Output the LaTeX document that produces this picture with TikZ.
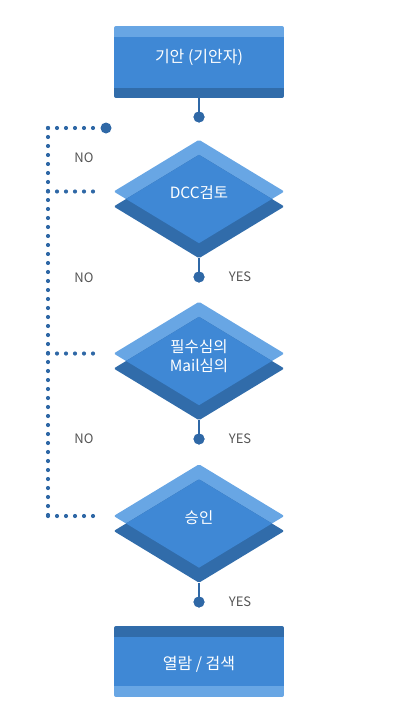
\documentclass[tikz,border=0pt]{standalone}
\usepackage{fontspec}
\setmainfont{Noto Sans CJK KR}
\definecolor{lightb}{HTML}{68A6E4}
\definecolor{midb}{HTML}{3F88D5}
\definecolor{darkb}{HTML}{316CAA}
\definecolor{dotc}{HTML}{2F68A6}
\definecolor{lbl}{HTML}{555555}
\newcommand\mydiam[2]{%
  \fill[lightb,rounded corners=1.5] (#1-85.3,#2) -- (#1,#2-51.7) -- (#1+85.3,#2) -- (#1,#2+51.7) -- cycle;
  \fill[darkb,rounded corners=1.5] (#1-85.3,#2+15) -- (#1,#2-36.7) -- (#1+85.3,#2+15) -- (#1,#2+66.7) -- cycle;
  \fill[midb] (#1-72.9,#2+7.5) -- (#1,#2-36.7) -- (#1+72.9,#2+7.5) -- (#1,#2+51.7) -- cycle;
}
\begin{document}
\begin{tikzpicture}[x=1pt,y=-1pt,
  wtext/.style={text=white,font=\fontsize{15.5}{19}\selectfont,align=center,inner sep=0pt},
  btext/.style={text=white,font=\fontsize{16}{19}\selectfont,align=center,inner sep=0pt},
  lbltext/.style={text=lbl,font=\fontsize{13}{15}\selectfont,inner sep=0pt},
  bigdot/.style={circle,fill=dotc,minimum size=11pt,inner sep=0pt},
  stem/.style={draw=dotc,line width=1.6pt},
  dotline/.style={draw=dotc,line width=4.2pt,line cap=round,dash pattern=on 0pt off 9pt},
  boxshape/.style={minimum width=170pt,minimum height=72pt,inner sep=0pt}]
\useasboundingbox (0,0) rectangle (401,725);

% top box
\begin{scope}
\clip[rounded corners=2] (114,26) rectangle (284,98);
\fill[lightb] (114,26) rectangle (284,37);
\fill[midb] (114,37) rectangle (284,88);
\fill[darkb] (114,88) rectangle (284,98);
\end{scope}
\node[boxshape] (kian) at (199,62) {};
\node[btext] (kiantxt) at (199,57.5) {기안 (기안자)};

% bottom box
\begin{scope}
\clip[rounded corners=2] (114,626) rectangle (284,697);
\fill[darkb] (114,626) rectangle (284,637);
\fill[midb] (114,637) rectangle (284,686);
\fill[lightb] (114,686) rectangle (284,697);
\end{scope}
\node[boxshape] (view) at (199,661.5) {};
\node[btext] (viewtxt) at (199,664) {열람 / 검색};

% diamonds
\mydiam{199}{191.5}
\mydiam{199}{353.5}
\mydiam{199}{516}
\coordinate (dccbot) at (199,258.2);
\coordinate (mailbot) at (199,420.2);
\coordinate (appbot) at (199,582.7);
\node[wtext] (dcc) at (199,193) {DCC검토};
\node[wtext] (mail) at (199,356.5) {필수심의\\Mail심의};
\node[wtext] (app) at (199,517.5) {승인};

% dotted return lines
\coordinate (c0) at (48,128);
\coordinate (c1) at (48,191.5);
\coordinate (c2) at (48,353.5);
\coordinate (c3) at (48,516);
\coordinate (h1) at (93,191.5);
\coordinate (h2) at (93,353.5);
\coordinate (h3) at (93,516);
\node[bigdot] (ret) at (106,128) {};
\draw[dotline] (c0) -- (c3);
\draw[dotline] (c0) -- (ret.west);
\draw[dotline] (c1) -- (h1);
\draw[dotline] (c2) -- (h2);
\draw[dotline] (c3) -- (h3);

% stems and dots
\node[bigdot] (d0) at (199,117) {};
\node[bigdot] (d1) at (199,277) {};
\node[bigdot] (d2) at (199,439) {};
\node[bigdot] (d3) at (199,602) {};
\draw[stem] (kian.south) -- (d0.center);
\draw[stem] (dccbot) -- (d1.center);
\draw[stem] (mailbot) -- (d2.center);
\draw[stem] (appbot) -- (d3.center);
\node[bigdot] at (d0) {};
\node[bigdot] at (d1) {};
\node[bigdot] at (d2) {};
\node[bigdot] at (d3) {};

% labels
\node[lbltext] (no1) at (84,158) {NO};
\node[lbltext] (no2) at (84,278) {NO};
\node[lbltext] (no3) at (84,439) {NO};
\node[lbltext] (yes1) at (240,277) {YES};
\node[lbltext] (yes2) at (240,439) {YES};
\node[lbltext] (yes3) at (240,602) {YES};
\end{tikzpicture}
\end{document}
